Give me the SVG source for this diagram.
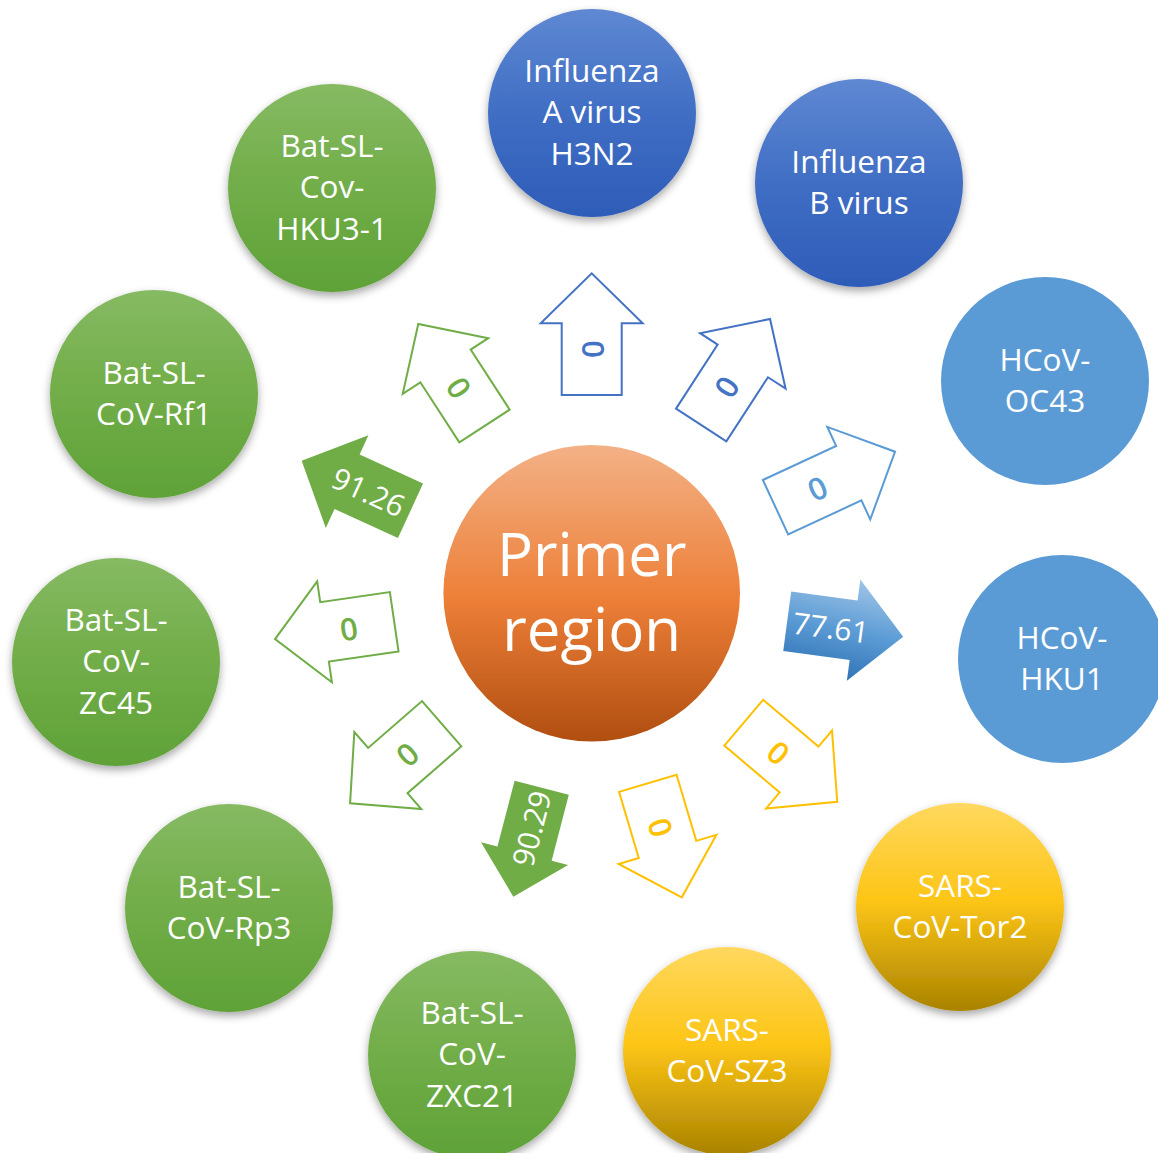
<svg xmlns="http://www.w3.org/2000/svg" width="1158" height="1153" viewBox="0 0 1158 1153">
<style>
.lbl{font-family:"Open Sans","Noto Sans",sans-serif;fill:#fff;text-anchor:middle;font-size:31.5px}
.big{font-family:"Open Sans","Noto Sans",sans-serif;fill:#fff;text-anchor:middle;font-size:60px}
.num{font-family:"Open Sans","Noto Sans",sans-serif;text-anchor:middle;dominant-baseline:central;font-size:30px}
.zero{font-family:"Open Sans","Noto Sans",sans-serif;text-anchor:middle;dominant-baseline:central;font-size:31px;font-weight:600}
.ob{fill:#fff;stroke:#4472C4;stroke-width:2}
.ol{fill:#fff;stroke:#5B9BD5;stroke-width:2}
.oy{fill:#fff;stroke:#FFC000;stroke-width:2}
.og{fill:#fff;stroke:#70AD47;stroke-width:2}
.fg{fill:#70AD47}
</style>
<defs>
<linearGradient id="gBlue" x1="0" y1="0" x2="0" y2="1"><stop offset="0" stop-color="#5F88D2"/><stop offset="0.5" stop-color="#406EC4"/><stop offset="1" stop-color="#2E5CB8"/></linearGradient>
<linearGradient id="gGreen" x1="0" y1="0" x2="0" y2="1"><stop offset="0" stop-color="#86BA63"/><stop offset="0.5" stop-color="#71AD48"/><stop offset="1" stop-color="#5FA238"/></linearGradient>
<linearGradient id="gGold" x1="0" y1="0" x2="0" y2="1"><stop offset="0" stop-color="#FFD85E"/><stop offset="0.47" stop-color="#FDC516"/><stop offset="1" stop-color="#A98300"/></linearGradient>
<linearGradient id="gOrange" x1="0" y1="0" x2="0" y2="1"><stop offset="0" stop-color="#F3B186"/><stop offset="0.52" stop-color="#ED7F38"/><stop offset="1" stop-color="#B04E10"/></linearGradient>
<linearGradient id="gArrow" x1="0.4" y1="0" x2="0.3" y2="1"><stop offset="0" stop-color="#9DC3E6"/><stop offset="0.5" stop-color="#5B9BD5"/><stop offset="1" stop-color="#2E72B4"/></linearGradient>
<filter id="sh" x="-20%" y="-20%" width="140%" height="150%"><feDropShadow dx="0" dy="4" stdDeviation="4" flood-color="#000" flood-opacity="0.35"/></filter>
</defs>

<g id="connectors">
<g id="arrow-0" transform="translate(591.7 395) rotate(-90)"><path class="ob" d="M0,-30 H71.7 V-51 L121.7,0 L71.7,51 V30 H0 Z"/><text class="zero" x="46" y="0" fill="#4472C4">0</text></g>
<g id="arrow-1" transform="translate(701.2 425) rotate(-57)"><path class="ob" d="M0,-30 H76.4 V-51 L126.4,0 L76.4,51 V30 H0 Z"/><text class="zero" x="46" y="0" fill="#4472C4">0</text></g>
<g id="arrow-2" transform="translate(775.5 507.2) rotate(-24.9)"><path class="ol" d="M0,-30 H80.8 V-51 L131.8,0 L80.8,51 V30 H0 Z"/><text class="zero" x="46" y="0" fill="#5B9BD5">0</text></g>
<g id="arrow-3" transform="translate(787.2 621.3) rotate(7.6)"><path fill="url(#gArrow)" d="M0,-30 H67 V-51 L117,0 L67,51 V30 H0 Z"/><text class="num" x="44" y="0" fill="#fff">77.61</text></g>
<g id="arrow-4" transform="translate(743.7 722.7) rotate(40.2)"><path class="oy" d="M0,-30 H72.5 V-51 L122.5,0 L72.5,51 V30 H0 Z"/><text class="zero" x="46" y="0" fill="#FFC000">0</text></g>
<g id="arrow-5" transform="translate(647.8 783.3) rotate(73.4)"><path class="oy" d="M0,-30 H69 V-51 L119,0 L69,51 V30 H0 Z"/><text class="zero" x="46" y="0" fill="#FFC000">0</text></g>
<g id="arrow-6" transform="translate(541.7 787.8) rotate(104.6)"><path class="fg" d="M0,-28 H68 V-45 L112.5,0 L68,45 V28 H0 Z"/><text class="num" x="42" y="0" fill="#fff" transform="rotate(180 42 0)">90.29</text></g>
<g id="arrow-7" transform="translate(441.7 723.7) rotate(139)"><path class="og" d="M0,-30 H71.4 V-51 L121.4,0 L71.4,51 V30 H0 Z"/><text class="zero" x="46" y="0" fill="#70AD47" transform="rotate(180 46 0)">0</text></g>
<g id="arrow-8" transform="translate(394.2 621.7) rotate(171.7)"><path class="og" d="M0,-30 H70.4 V-51 L120.4,0 L70.4,51 V30 H0 Z"/><text class="zero" x="46" y="0" fill="#70AD47" transform="rotate(180 46 0)">0</text></g>
<g id="arrow-9" transform="translate(410.5 510.8) rotate(204.7)"><path class="fg" d="M0,-30 H69.8 V-51 L119.8,0 L69.8,51 V30 H0 Z"/><text class="num" x="46" y="0" fill="#fff" transform="rotate(180 46 0)">91.26</text></g>
<g id="arrow-10" transform="translate(484.5 426) rotate(237)"><path class="og" d="M0,-30 H71.6 V-51 L121.6,0 L71.6,51 V30 H0 Z"/><text class="zero" x="46" y="0" fill="#70AD47" transform="rotate(180 46 0)">0</text></g>
</g>

<g id="node-center">
<circle cx="591.7" cy="593.3" r="148.3" fill="url(#gOrange)"/>
<text class="big" x="591.7" y="575.7">Primer</text>
<text class="big" x="591.7" y="651">region</text>
</g>

<g id="node-influenza-a">
<circle cx="592" cy="113" r="104" fill="url(#gBlue)" filter="url(#sh)"/>
<text class="lbl" x="592" y="81.7">Influenza</text>
<text class="lbl" x="592" y="123.3">A virus</text>
<text class="lbl" x="592" y="165">H3N2</text>
</g>

<g id="node-influenza-b">
<circle cx="859" cy="183" r="104" fill="url(#gBlue)" filter="url(#sh)"/>
<text class="lbl" x="859" y="172.5">Influenza</text>
<text class="lbl" x="859" y="214.2">B virus</text>
</g>

<g id="node-hcov-oc43">
<circle cx="1045" cy="381" r="104" fill="#5B9BD5"/>
<text class="lbl" x="1045" y="370.5">HCoV-</text>
<text class="lbl" x="1045" y="412.2">OC43</text>
</g>

<g id="node-hcov-hku1">
<circle cx="1062" cy="659" r="104" fill="#5B9BD5"/>
<text class="lbl" x="1062" y="648.5">HCoV-</text>
<text class="lbl" x="1062" y="690.2">HKU1</text>
</g>

<g id="node-sars-tor2">
<circle cx="960" cy="907" r="104" fill="url(#gGold)" filter="url(#sh)"/>
<text class="lbl" x="960" y="896.5">SARS-</text>
<text class="lbl" x="960" y="938.2">CoV-Tor2</text>
</g>

<g id="node-sars-sz3">
<circle cx="727" cy="1051" r="104" fill="url(#gGold)" filter="url(#sh)"/>
<text class="lbl" x="727" y="1040.5">SARS-</text>
<text class="lbl" x="727" y="1082.2">CoV-SZ3</text>
</g>

<g id="node-zxc21">
<circle cx="472" cy="1055" r="104" fill="url(#gGreen)" filter="url(#sh)"/>
<text class="lbl" x="472" y="1023.7">Bat-SL-</text>
<text class="lbl" x="472" y="1065.3">CoV-</text>
<text class="lbl" x="472" y="1107">ZXC21</text>
</g>

<g id="node-rp3">
<circle cx="229" cy="908" r="104" fill="url(#gGreen)" filter="url(#sh)"/>
<text class="lbl" x="229" y="897.5">Bat-SL-</text>
<text class="lbl" x="229" y="939.2">CoV-Rp3</text>
</g>

<g id="node-zc45">
<circle cx="116" cy="662" r="104" fill="url(#gGreen)" filter="url(#sh)"/>
<text class="lbl" x="116" y="630.7">Bat-SL-</text>
<text class="lbl" x="116" y="672.3">CoV-</text>
<text class="lbl" x="116" y="714">ZC45</text>
</g>

<g id="node-rf1">
<circle cx="154" cy="394" r="104" fill="url(#gGreen)" filter="url(#sh)"/>
<text class="lbl" x="154" y="383.5">Bat-SL-</text>
<text class="lbl" x="154" y="425.2">CoV-Rf1</text>
</g>

<g id="node-hku3-1">
<circle cx="332" cy="188" r="104" fill="url(#gGreen)" filter="url(#sh)"/>
<text class="lbl" x="332" y="156.7">Bat-SL-</text>
<text class="lbl" x="332" y="198.3">Cov-</text>
<text class="lbl" x="332" y="240">HKU3-1</text>
</g>
</svg>
